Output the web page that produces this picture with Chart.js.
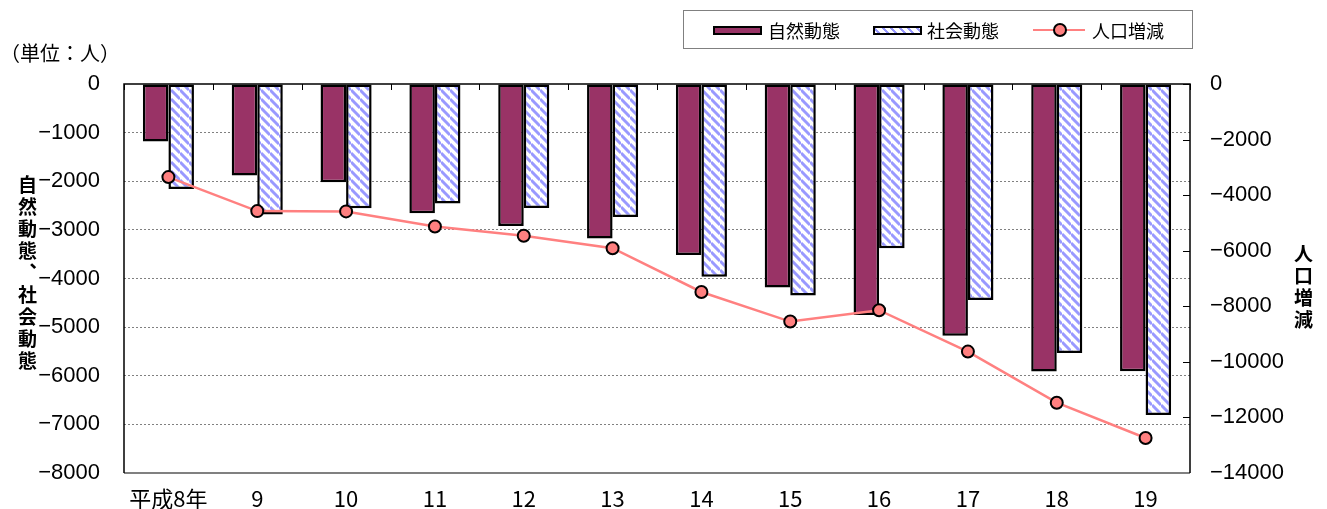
<!DOCTYPE html>
<html lang="ja">
<head>
<meta charset="utf-8">
<title>自然動態・社会動態・人口増減</title>
<script src="https://cdn.jsdelivr.net/npm/chart.js@4.4.1/dist/chart.umd.min.js"></script>
<style>
  html, body { margin: 0; padding: 0; background: #fff; }
  #wrap { position: relative; width: 1327px; height: 509px; overflow: hidden;
          font-family: "Noto Sans CJK JP", sans-serif; color: #000; }
  #chart { position: absolute; left: 0; top: 0; }
  .unit { position: absolute; left: 0; top: 39px; font-size: 20px; line-height: 28px; white-space: nowrap; }
  .unit span { display: inline-block; width: 20px; text-align: center; }
  .vtitle { position: absolute; writing-mode: vertical-rl; text-orientation: upright;
            font-weight: bold; font-size: 19px; line-height: 1; letter-spacing: 3px; }
  #ttlL { left: 18px; top: 175px; }
  #ttlR { left: 1294px; top: 244px; }
  #legend { position: absolute; left: 683px; top: 10px; width: 508px; height: 37px;
            border: 1px solid #808080; background: #fff; }
  .lg-text { position: absolute; top: 0; line-height: 39px; font-size: 18px; white-space: nowrap; }
  .lg-sw { position: absolute; top: 15px; width: 45px; height: 5px; border: 2px solid #000; }
  #swNat { left: 29px; background: #993366; }
  #swSoc { left: 189px; background: repeating-linear-gradient(45deg, #fff 0 2px, #9999ff 2px 4px, #fff 4px 6px); }
  #lnPop { position: absolute; left: 349px; top: 18px; width: 52px; height: 2px; background: #ff8080; }
  #dotPop { position: absolute; left: 369px; top: 12px; width: 10px; height: 10px; border-radius: 50%;
            background: #ff8080; border: 2px solid #000; }
</style>
</head>
<body>
<div id="wrap">
  <canvas id="chart" width="1327" height="509"></canvas>
  <div class="unit"><span>（</span><span>単</span><span>位</span><span>：</span><span>人</span><span>）</span></div>
  <div class="vtitle" id="ttlL">自然動態、社会動態</div>
  <div class="vtitle" id="ttlR">人口増減</div>
  <div id="legend">
    <div class="lg-sw" id="swNat"></div><div class="lg-text" style="left:84px">自然動態</div>
    <div class="lg-sw" id="swSoc"></div><div class="lg-text" style="left:243px">社会動態</div>
    <div id="lnPop"></div><div id="dotPop"></div><div class="lg-text" style="left:408px">人口増減</div>
  </div>
</div>
<script>
// ---- data ----
const years   = ['平成8年','9','10','11','12','13','14','15','16','17','18','19'];
const natural = [-1180, -1880, -2020, -2660, -2920, -3175, -3515, -4185, -4750, -5175, -5915, -5905];
const social  = [-2160, -2685, -2555, -2460, -2550, -2735, -3965, -4350, -3380, -4440, -5530, -6805];
const popChange = [-3350, -4575, -4585, -5130, -5460, -5910, -7485, -8550, -8140, -9630, -11470, -12740];

const C_NAT  = '#993366';
const C_SOC  = '#9999ff';
const C_LINE = '#ff8080';
const NUM_FONT = '"Liberation Sans", Arial, sans-serif';
const JP_FONT  = '"Noto Sans CJK JP", "Noto Sans", sans-serif';

function minus(v){ return String(v).replace('-', '\u2212'); }

// diagonal hatch for 社会動態
function hatch(){
  const s = 9;
  const c = document.createElement('canvas');
  c.width = s; c.height = s;
  const g = c.getContext('2d');
  g.fillStyle = '#fff'; g.fillRect(0, 0, s, s);
  g.strokeStyle = C_SOC; g.lineWidth = 3;
  [-s, 0, s].forEach(o => { g.beginPath(); g.moveTo(0, o); g.lineTo(s, o + s); g.stroke(); });
  return g.createPattern(c, 'repeat');
}

// frame, inward ticks on top (category) axis and right axis
const framePlugin = {
  id: 'frame',
  beforeDatasetsDraw(chart){
    const { ctx, chartArea: a, scales } = chart;
    ctx.save();
    ctx.strokeStyle = '#000'; ctx.lineWidth = 1;
    ctx.beginPath();
    for (let i = 0; i <= years.length; i++){
      const x = Math.round(scales.x.getPixelForValue(i - 0.5)) + 0.5;
      ctx.moveTo(x, a.top); ctx.lineTo(x, a.top + 6);
    }
    scales.y2.ticks.forEach(t => {
      const y = Math.round(scales.y2.getPixelForValue(t.value)) + 0.5;
      ctx.moveTo(a.right - 7, y); ctx.lineTo(a.right, y);
    });
    ctx.stroke();
    ctx.strokeStyle = '#808080'; ctx.lineWidth = 2;
    ctx.beginPath(); ctx.moveTo(a.left, a.bottom); ctx.lineTo(a.right, a.bottom); ctx.stroke();
    ctx.strokeStyle = '#000'; ctx.lineWidth = 1.5;
    ctx.beginPath();
    ctx.moveTo(a.left, a.bottom); ctx.lineTo(a.left, a.top); ctx.lineTo(a.right, a.top); ctx.lineTo(a.right, a.bottom);
    ctx.stroke();
    ctx.restore();
  }
};

function draw(){
  Chart.defaults.color = '#000';
  Chart.defaults.animation = false;

  new Chart(document.getElementById('chart'), {
    type: 'bar',
    data: {
      labels: years,
      datasets: [
        { type: 'line', label: '人口増減', data: popChange, yAxisID: 'y2', order: 0,
          borderColor: C_LINE, borderWidth: 2.5, pointRadius: 6, pointBackgroundColor: C_LINE,
          pointBorderColor: '#000', pointBorderWidth: 2, tension: 0 },
        { label: '自然動態', data: natural, yAxisID: 'y', order: 1, backgroundColor: C_NAT,
          borderColor: '#000', borderWidth: 2.5, borderSkipped: false,
          categoryPercentage: 0.575, barPercentage: 1.0 },
        { label: '社会動態', data: social, yAxisID: 'y', order: 2, backgroundColor: hatch(),
          borderColor: '#000', borderWidth: 2.5, borderSkipped: false,
          categoryPercentage: 0.575, barPercentage: 1.0 }
      ]
    },
    options: {
      responsive: false,
      layout: { padding: { top: 84, left: 0, right: 0, bottom: 0 } },
      plugins: { legend: { display: false }, tooltip: { enabled: false } },
      scales: {
        x: {
          position: 'bottom',
          grid: { display: false, drawTicks: false },
          border: { display: false },
          ticks: { font: { family: JP_FONT, size: 22 }, padding: 12, maxRotation: 0, autoSkip: false },
          afterFit(s){ s.height = 36; }
        },
        y: {
          position: 'left', min: -8000, max: 0,
          ticks: { stepSize: 1000, padding: 4, font: { family: NUM_FONT, size: 22 }, callback: v => minus(v) },
          grid: { drawTicks: true, tickLength: 20, tickColor: 'rgba(0,0,0,0)', lineWidth: 1,
                  color: ctx => (ctx.tick.value === 0 || ctx.tick.value === -8000) ? 'rgba(0,0,0,0)' : '#808080' },
          border: { display: false, dash: [2, 2] },
          afterFit(s){ s.width = 124; }
        },
        y2: {
          position: 'right', min: -14000, max: 0,
          ticks: { stepSize: 2000, padding: 4, font: { family: NUM_FONT, size: 22 }, callback: v => minus(v) },
          grid: { display: true, drawOnChartArea: false, drawTicks: true, tickLength: 16, tickColor: 'rgba(0,0,0,0)' },
          border: { display: false },
          afterFit(s){ s.width = 137; }
        }
      }
    },
    plugins: [framePlugin]
  });
}

Promise.all([
  document.fonts.load('22px "Noto Sans CJK JP"', '平成8年0123456789'),
  document.fonts.load('22px "Liberation Sans"', '0123456789')
]).catch(() => {}).then(draw);
</script>
</body>
</html>
